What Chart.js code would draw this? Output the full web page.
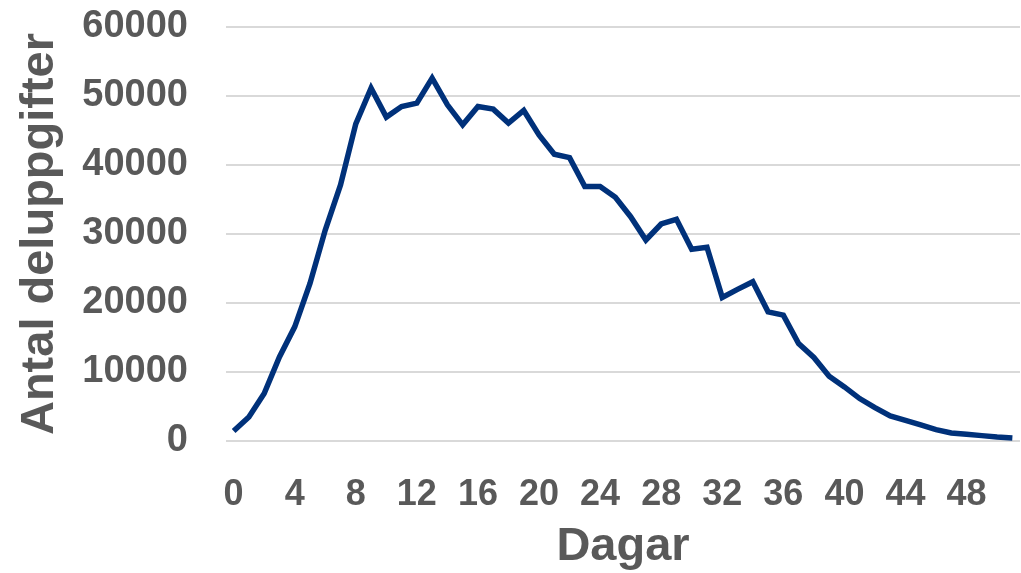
<!DOCTYPE html>
<html lang="sv">
<head>
  <meta charset="UTF-8" />
  <title>Antal deluppgifter per dag</title>
  <script src="https://cdn.jsdelivr.net/npm/chart.js"></script>
  <style>
    * { box-sizing: border-box; margin: 0; padding: 0; }
    body { background: #fff; overflow: hidden; }
    #chart-container { width: 1021px; height: 573px; position: relative; }
  </style>
</head>
<body>
  <div id="chart-container">
    <canvas id="dayChart"></canvas>
  </div>

  <script>
    // days 0..51 since start
    const days = [
      0, 1, 2, 3, 4, 5, 6, 7, 8, 9, 10, 11, 12, 13, 14, 15, 16, 17,
      18, 19, 20, 21, 22, 23, 24, 25, 26, 27, 28, 29, 30, 31, 32, 33, 34,
      35, 36, 37, 38, 39, 40, 41, 42, 43, 44, 45, 46, 47, 48, 49, 50, 51
    ];
    const subtasks = [
      1450, 3480, 6880, 12190, 16550, 22840, 30580, 37110, 45960, 51150,
      46940, 48480, 48970, 52600, 48720, 45820, 48480, 48100, 46070, 47900,
      44370, 41570, 41070, 36870, 36870, 35330, 32510, 29130, 31450, 32130,
      27780, 28070, 20810, 21970, 23080, 18720, 18240, 14140, 12100, 9390,
      7840, 6150, 4850, 3630, 3000, 2320, 1650, 1160, 970, 780, 580, 440
    ];
    const yTicks = [0, 10000, 20000, 30000, 40000, 50000, 60000];

    const TEXT_COLOR = '#595959';
    const LINE_COLOR = '#00317A';
    const FONT = "'Liberation Sans', Arial, sans-serif";

    const ctx = document.getElementById('dayChart').getContext('2d');
    new Chart(ctx, {
      type: 'line',
      data: {
        labels: days,
        datasets: [{
          label: 'Antal deluppgifter',
          data: subtasks,
          borderColor: LINE_COLOR,
          borderWidth: 5.5,
          pointRadius: 0,
          tension: 0,
          fill: false
        }]
      },
      options: {
        responsive: true,
        maintainAspectRatio: false,
        animation: false,
        layout: { padding: { left: 0, right: 1, top: 0, bottom: 0 } },
        plugins: {
          legend: { display: false },
          tooltip: { enabled: false }
        },
        scales: {
          x: {
            type: 'category',
            offset: true,
            grid: { display: false, drawTicks: false },
            border: { display: false },
            ticks: {
              autoSkip: false,
              maxRotation: 0,
              padding: 32,
              color: TEXT_COLOR,
              font: { family: FONT, size: 36, weight: 'bold' },
              callback: function (value, index) {
                return index % 4 === 0 ? days[index] : '';
              }
            },
            title: {
              display: true,
              text: 'Dagar',
              color: TEXT_COLOR,
              font: { family: FONT, size: 47, weight: 'bold', lineHeight: 1.1 },
              padding: { top: 0, bottom: 0 }
            },
            afterFit: function (scale) {
              scale.height = 132;
              scale.paddingLeft = 0;
              scale.paddingRight = 0;
            }
          },
          y: {
            min: 0,
            max: 60000,
            afterBuildTicks: function (scale) {
              scale.ticks = yTicks.map(v => ({ value: v }));
            },
            grid: { color: '#d9d9d9', lineWidth: 2, drawTicks: false },
            border: { display: false },
            ticks: {
              padding: 38,
              color: TEXT_COLOR,
              font: { family: FONT, size: 38, weight: 'bold' },
              callback: v => String(v)
            },
            title: {
              display: true,
              text: 'Antal deluppgifter',
              color: TEXT_COLOR,
              font: { family: FONT, size: 47, weight: 'bold' },
              padding: { top: 12, bottom: 0 }
            },
            afterFit: function (scale) {
              scale.width = 226;
              scale.paddingTop = 27;
              scale.paddingBottom = 0;
            }
          }
        }
      }
    });
  </script>
</body>
</html>
